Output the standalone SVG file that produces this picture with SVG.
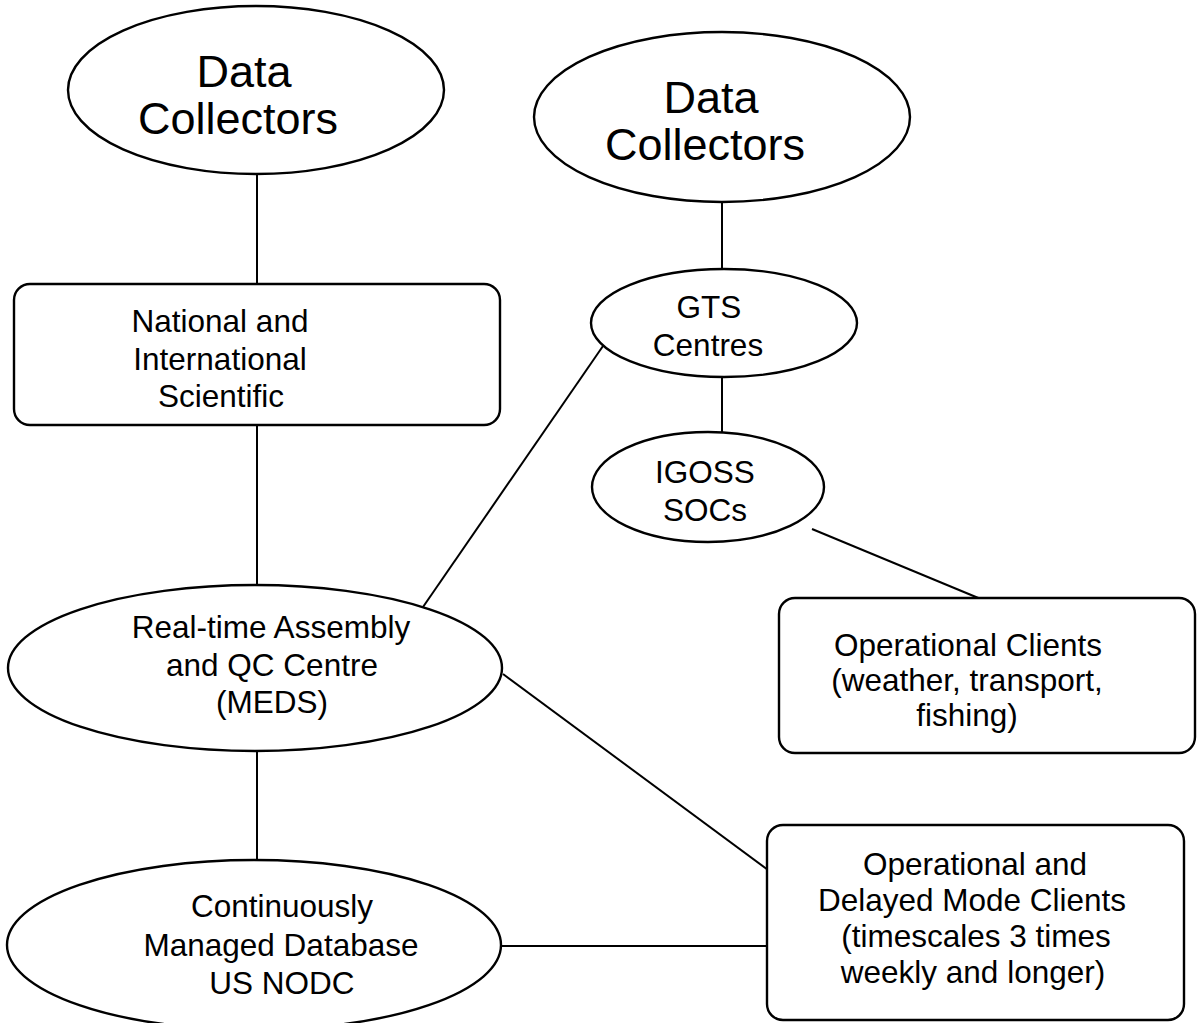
<svg xmlns="http://www.w3.org/2000/svg" width="1198" height="1023" viewBox="0 0 1198 1023">
<style>
.shape{fill:#fff;stroke:#000;stroke-width:2.4}
.conn{stroke:#000;stroke-width:2;fill:none}
text{font-family:"Liberation Sans",Arial,sans-serif;fill:#000;text-anchor:middle}
.big{font-size:45px}
.sm{font-size:31.5px}
</style>
<rect width="1198" height="1023" fill="#fff"/>
<g id="connectors">
<line class="conn" x1="257" y1="174" x2="257" y2="284"/>
<line class="conn" x1="257" y1="425" x2="257" y2="585"/>
<line class="conn" x1="257" y1="752" x2="257" y2="860"/>
<line class="conn" x1="722" y1="202" x2="722" y2="269"/>
<line class="conn" x1="722" y1="377" x2="722" y2="433"/>
<line class="conn" x1="423" y1="607" x2="603" y2="346"/>
<line class="conn" x1="503" y1="674" x2="768" y2="870"/>
<line class="conn" x1="812" y1="529" x2="988" y2="602"/>
<line class="conn" x1="501" y1="946" x2="767" y2="946"/>
</g>
<g id="dc-left">
<ellipse class="shape" cx="256" cy="90" rx="188" ry="84"/>
<text class="big" x="244" y="87">Data</text>
<text class="big" x="238" y="134">Collectors</text>
</g>
<g id="dc-right">
<ellipse class="shape" cx="722" cy="117" rx="188" ry="85"/>
<text class="big" x="711" y="113">Data</text>
<text class="big" x="705" y="160">Collectors</text>
</g>
<g id="national">
<rect class="shape" x="14" y="284" width="486" height="141" rx="16"/>
<text class="sm" x="220" y="332">National and</text>
<text class="sm" x="220" y="370">International</text>
<text class="sm" x="221" y="407">Scientific</text>
</g>
<g id="gts">
<ellipse class="shape" cx="724" cy="323" rx="133" ry="54"/>
<text class="sm" x="709" y="318">GTS</text>
<text class="sm" x="708" y="356">Centres</text>
</g>
<g id="igoss">
<ellipse class="shape" cx="708" cy="487" rx="116" ry="55"/>
<text class="sm" x="705" y="483">IGOSS</text>
<text class="sm" x="705" y="521">SOCs</text>
</g>
<g id="meds">
<ellipse class="shape" cx="255" cy="668" rx="247" ry="83"/>
<text class="sm" x="271" y="638">Real-time Assembly</text>
<text class="sm" x="272" y="676">and QC Centre</text>
<text class="sm" x="272" y="713">(MEDS)</text>
</g>
<g id="op-clients">
<rect class="shape" x="779" y="598" width="416" height="155" rx="16"/>
<text class="sm" x="968" y="656">Operational Clients</text>
<text class="sm" x="967" y="691">(weather, transport,</text>
<text class="sm" x="967" y="726">fishing)</text>
</g>
<g id="database">
<ellipse class="shape" cx="254" cy="945" rx="247" ry="85"/>
<text class="sm" x="282" y="917">Continuously</text>
<text class="sm" x="281" y="956">Managed Database</text>
<text class="sm" x="282" y="994">US NODC</text>
</g>
<g id="delayed">
<rect class="shape" x="767" y="825" width="417" height="195" rx="16"/>
<text class="sm" x="975" y="875">Operational and</text>
<text class="sm" x="972" y="911">Delayed Mode Clients</text>
<text class="sm" x="976" y="947">(timescales 3 times</text>
<text class="sm" x="973" y="983">weekly and longer)</text>
</g>
</svg>
